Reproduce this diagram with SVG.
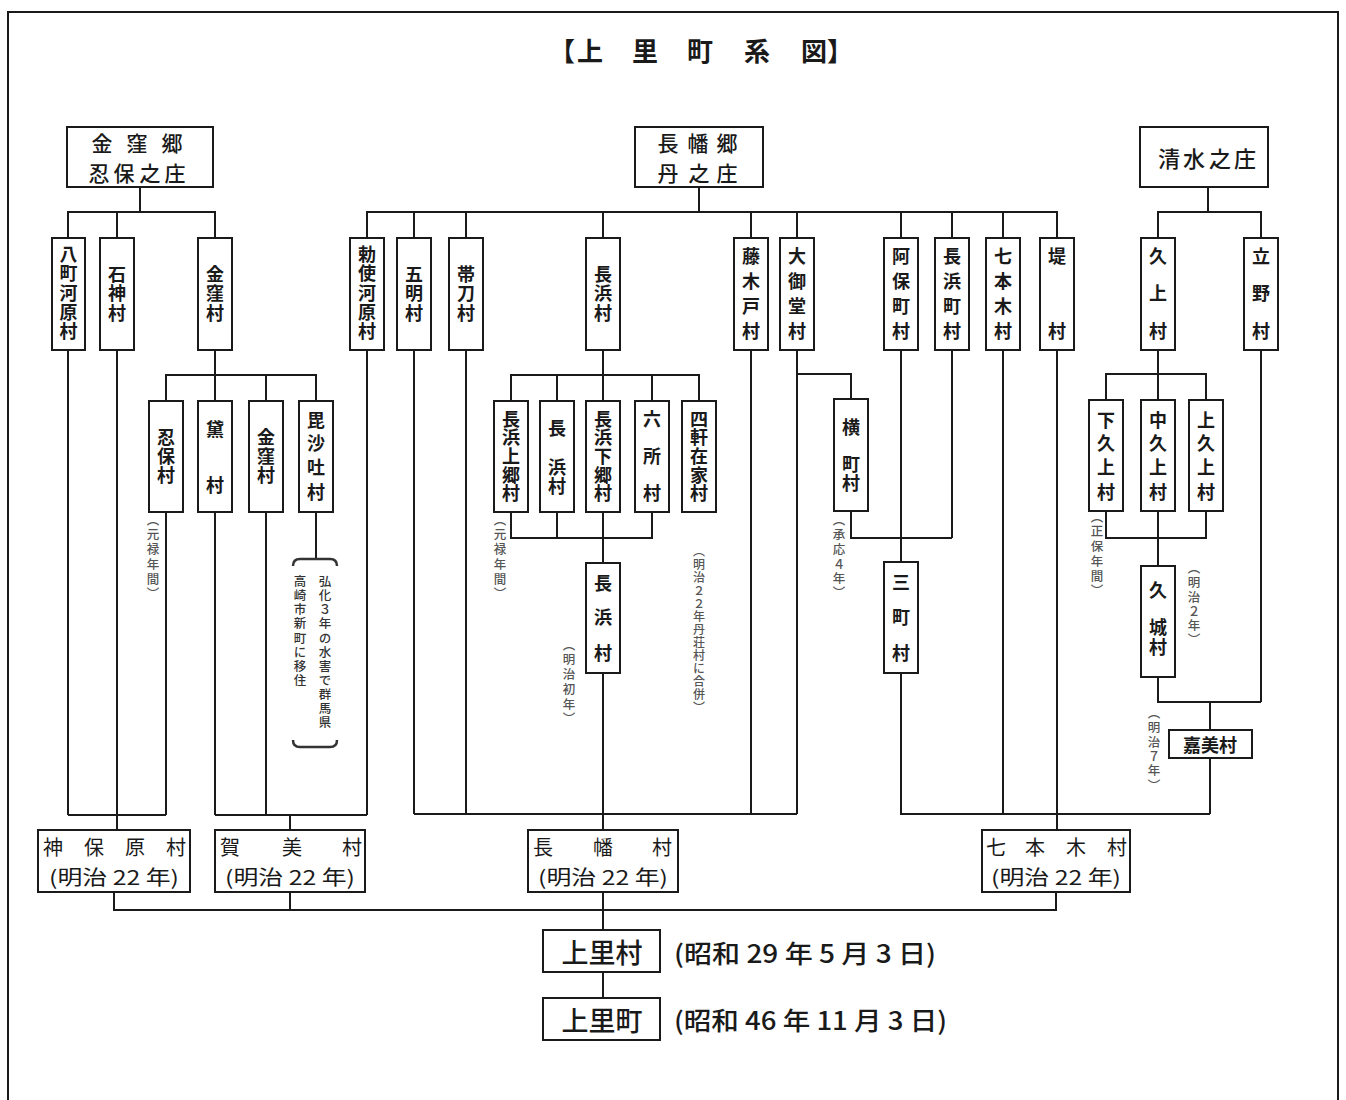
<svg xmlns="http://www.w3.org/2000/svg" width="1346" height="1100" viewBox="0 0 1346 1100">
<style>
.bx{fill:#fff;stroke:#1a1a1a;stroke-width:2}
.ln{fill:none;stroke:#1a1a1a;stroke-width:2}
.br{fill:none;stroke:#333;stroke-width:2.5}
text{font-family:"Noto Sans CJK JP","Noto Sans CJK SC",sans-serif;text-anchor:middle;dominant-baseline:central;fill:#1a1a1a}
.vt{writing-mode:vertical-rl}
.v{font-size:18px;font-weight:700}
.h{font-size:21px;font-weight:500}
.n{font-size:12.5px;font-weight:500;fill:#555}
.bt{font-size:20px;font-weight:400}
.big{font-size:25px;font-weight:500}
.ti{font-size:26px;font-weight:700}
</style>
<rect width="1346" height="1100" fill="#fff"/>
<path class="ln" d="M8,1100 V12 H1338 V1100"/>
<text class="ti"><tspan x="562" y="49">【</tspan><tspan x="590" y="49">上</tspan><tspan x="645" y="49">里</tspan><tspan x="700" y="49">町</tspan><tspan x="757" y="49">系</tspan><tspan x="814" y="49">図</tspan><tspan x="840" y="49">】</tspan></text>

<g id="connectors">
<path class="ln" d="M140,187 V212 M68,238 V212 H215 V238 M117,212 V238"/>
<path class="ln" d="M215,350 V401 M166,401 V375 H316 V401 M266,375 V401"/>
<path class="ln" d="M68,350 V815 M117,350 V830 M166,512 V815 M68,815 H166"/>
<path class="ln" d="M215,512 V815 M266,512 V815 M367,350 V815 M215,815 H367 M290,815 V830"/>
<path class="ln" d="M316,512 V559"/>
<path class="br" d="M293,566 Q293,559 300,559 H330 Q337,559 337,566 M293,740 Q293,747 300,747 H330 Q337,747 337,740"/>
<path class="ln" d="M699,187 V212 M367,238 V212 H1057 V238 M414,212 V238 M466,212 V238 M603,212 V238 M751,212 V238 M797,212 V238 M901,212 V238 M952,212 V238 M1003,212 V238"/>
<path class="ln" d="M603,350 V401 M511,401 V375 H699 V401 M557,375 V401 M652,375 V401"/>
<path class="ln" d="M511,512 V538 H652 V512 M557,512 V538 M603,512 V563 M603,673 V830"/>
<path class="ln" d="M414,350 V814 M466,350 V814 M751,350 V814 M797,350 V814 M414,814 H797"/>
<path class="ln" d="M797,374 H851 V399 M851,511 V538 H952 M952,350 V538 M901,350 V562 M901,673 V814 H1210 M1003,350 V814 M1057,350 V830"/>
<path class="ln" d="M1208,187 V212 M1158,238 V212 H1261 V238"/>
<path class="ln" d="M1158,350 V400 M1106,400 V374 H1206 V400 M1106,511 V538 H1206 V511 M1158,511 V566"/>
<path class="ln" d="M1158,677 V702 H1261 M1261,350 V702 M1210,702 V730 M1210,758 V814"/>
<path class="ln" d="M114,892 V910 H1056 V892 M290,892 V910 M603,892 V930 M603,972 V998"/>
</g>

<g id="n-kanakubo-go"><rect class="bx" x="67" y="127" width="146" height="60"/>
<text class="h"><tspan x="102" y="142">金</tspan><tspan x="137" y="142">窪</tspan><tspan x="172" y="142">郷</tspan></text>
<text class="h"><tspan x="99" y="172">忍</tspan><tspan x="124" y="172">保</tspan><tspan x="150" y="172">之</tspan><tspan x="175" y="172">庄</tspan></text></g>
<g id="n-nagahata-go"><rect class="bx" x="635" y="127" width="128" height="60"/>
<text class="h"><tspan x="668" y="142">長</tspan><tspan x="698" y="142">幡</tspan><tspan x="727" y="142">郷</tspan></text>
<text class="h"><tspan x="668" y="172">丹</tspan><tspan x="699" y="172">之</tspan><tspan x="727" y="172">庄</tspan></text></g>
<g id="n-shimizu"><rect class="bx" x="1140" y="127" width="128" height="60"/>
<text class="h" style="font-size:22px"><tspan x="1169" y="157">清</tspan><tspan x="1194" y="157">水</tspan><tspan x="1220" y="157">之</tspan><tspan x="1245" y="157">庄</tspan></text></g>

<g id="n-hacchogawara"><rect class="bx" x="52" y="238" width="33" height="112"/>
<text class="v vt"><tspan x="68.5" y="254">八</tspan><tspan x="68.5" y="273">町</tspan><tspan x="68.5" y="293">河</tspan><tspan x="68.5" y="312">原</tspan><tspan x="68.5" y="331">村</tspan></text></g>
<g id="n-ishigami"><rect class="bx" x="100" y="238" width="34" height="112"/>
<text class="v vt"><tspan x="117" y="274">石</tspan><tspan x="117" y="293">神</tspan><tspan x="117" y="313">村</tspan></text></g>
<g id="n-kanakubo1"><rect class="bx" x="198" y="238" width="34" height="112"/>
<text class="v vt"><tspan x="215" y="274">金</tspan><tspan x="215" y="293">窪</tspan><tspan x="215" y="313">村</tspan></text></g>
<g id="n-teshigawara"><rect class="bx" x="350" y="238" width="34" height="112"/>
<text class="v vt"><tspan x="367" y="254">勅</tspan><tspan x="367" y="273">使</tspan><tspan x="367" y="293">河</tspan><tspan x="367" y="312">原</tspan><tspan x="367" y="331">村</tspan></text></g>
<g id="n-gomyo"><rect class="bx" x="397" y="238" width="34" height="112"/>
<text class="v vt"><tspan x="414" y="274">五</tspan><tspan x="414" y="293">明</tspan><tspan x="414" y="313">村</tspan></text></g>
<g id="n-tatewaki"><rect class="bx" x="449" y="238" width="34" height="112"/>
<text class="v vt"><tspan x="466" y="274">帯</tspan><tspan x="466" y="293">刀</tspan><tspan x="466" y="313">村</tspan></text></g>
<g id="n-nagahama1"><rect class="bx" x="586" y="238" width="34" height="112"/>
<text class="v vt"><tspan x="603" y="274">長</tspan><tspan x="603" y="293">浜</tspan><tspan x="603" y="313">村</tspan></text></g>
<g id="n-fujikido"><rect class="bx" x="734" y="238" width="34" height="112"/>
<text class="v vt"><tspan x="751" y="256">藤</tspan><tspan x="751" y="281">木</tspan><tspan x="751" y="306">戸</tspan><tspan x="751" y="331">村</tspan></text></g>
<g id="n-omido"><rect class="bx" x="780" y="238" width="34" height="112"/>
<text class="v vt"><tspan x="797" y="256">大</tspan><tspan x="797" y="281">御</tspan><tspan x="797" y="306">堂</tspan><tspan x="797" y="331">村</tspan></text></g>
<g id="n-abomachi"><rect class="bx" x="884" y="238" width="34" height="112"/>
<text class="v vt"><tspan x="901" y="256">阿</tspan><tspan x="901" y="281">保</tspan><tspan x="901" y="306">町</tspan><tspan x="901" y="331">村</tspan></text></g>
<g id="n-nagahamamachi"><rect class="bx" x="935" y="238" width="34" height="112"/>
<text class="v vt"><tspan x="952" y="256">長</tspan><tspan x="952" y="281">浜</tspan><tspan x="952" y="306">町</tspan><tspan x="952" y="331">村</tspan></text></g>
<g id="n-shichihongi1"><rect class="bx" x="986" y="238" width="34" height="112"/>
<text class="v vt"><tspan x="1003" y="256">七</tspan><tspan x="1003" y="281">本</tspan><tspan x="1003" y="306">木</tspan><tspan x="1003" y="331">村</tspan></text></g>
<g id="n-tsutsumi"><rect class="bx" x="1040" y="238" width="34" height="112"/>
<text class="v vt"><tspan x="1057" y="256">堤</tspan><tspan x="1057" y="331">村</tspan></text></g>
<g id="n-kujo"><rect class="bx" x="1141" y="238" width="34" height="112"/>
<text class="v vt"><tspan x="1158" y="256">久</tspan><tspan x="1158" y="293">上</tspan><tspan x="1158" y="331">村</tspan></text></g>
<g id="n-tatsuno"><rect class="bx" x="1244" y="238" width="34" height="112"/>
<text class="v vt"><tspan x="1261" y="256">立</tspan><tspan x="1261" y="293">野</tspan><tspan x="1261" y="331">村</tspan></text></g>

<g id="n-oshibo"><rect class="bx" x="149" y="401" width="34" height="111"/>
<text class="v vt"><tspan x="166" y="437">忍</tspan><tspan x="166" y="456">保</tspan><tspan x="166" y="475">村</tspan></text></g>
<g id="n-mayuzumi"><rect class="bx" x="198" y="401" width="34" height="111"/>
<text class="v vt"><tspan x="215" y="429">黛</tspan><tspan x="215" y="485">村</tspan></text></g>
<g id="n-kanakubo2"><rect class="bx" x="249" y="401" width="34" height="111"/>
<text class="v vt"><tspan x="266" y="437">金</tspan><tspan x="266" y="456">窪</tspan><tspan x="266" y="475">村</tspan></text></g>
<g id="n-bishato"><rect class="bx" x="299" y="401" width="34" height="111"/>
<text class="v vt"><tspan x="316" y="420">毘</tspan><tspan x="316" y="443">沙</tspan><tspan x="316" y="467">吐</tspan><tspan x="316" y="492">村</tspan></text></g>
<g id="n-nagahamakamigo"><rect class="bx" x="494" y="401" width="34" height="111"/>
<text class="v vt"><tspan x="511" y="419">長</tspan><tspan x="511" y="437">浜</tspan><tspan x="511" y="456">上</tspan><tspan x="511" y="475">郷</tspan><tspan x="511" y="493">村</tspan></text></g>
<g id="n-nagahama2"><rect class="bx" x="540" y="401" width="34" height="111"/>
<text class="v vt"><tspan x="557" y="428">長</tspan><tspan x="557" y="467">浜</tspan><tspan x="557" y="486">村</tspan></text></g>
<g id="n-nagahamashimogo"><rect class="bx" x="586" y="401" width="34" height="111"/>
<text class="v vt"><tspan x="603" y="419">長</tspan><tspan x="603" y="437">浜</tspan><tspan x="603" y="456">下</tspan><tspan x="603" y="475">郷</tspan><tspan x="603" y="493">村</tspan></text></g>
<g id="n-rokusho"><rect class="bx" x="635" y="401" width="34" height="111"/>
<text class="v vt"><tspan x="652" y="419">六</tspan><tspan x="652" y="456">所</tspan><tspan x="652" y="493">村</tspan></text></g>
<g id="n-shikenzaike"><rect class="bx" x="682" y="401" width="34" height="111"/>
<text class="v vt"><tspan x="699" y="419">四</tspan><tspan x="699" y="437">軒</tspan><tspan x="699" y="456">在</tspan><tspan x="699" y="475">家</tspan><tspan x="699" y="493">村</tspan></text></g>
<g id="n-yokomachi"><rect class="bx" x="834" y="399" width="34" height="112"/>
<text class="v vt"><tspan x="851" y="427">横</tspan><tspan x="851" y="464">町</tspan><tspan x="851" y="483">村</tspan></text></g>
<g id="n-shimokujo"><rect class="bx" x="1089" y="400" width="34" height="111"/>
<text class="v vt"><tspan x="1106" y="420">下</tspan><tspan x="1106" y="443">久</tspan><tspan x="1106" y="467">上</tspan><tspan x="1106" y="492">村</tspan></text></g>
<g id="n-nakakujo"><rect class="bx" x="1141" y="400" width="34" height="111"/>
<text class="v vt"><tspan x="1158" y="420">中</tspan><tspan x="1158" y="443">久</tspan><tspan x="1158" y="467">上</tspan><tspan x="1158" y="492">村</tspan></text></g>
<g id="n-kamikujo"><rect class="bx" x="1189" y="400" width="34" height="111"/>
<text class="v vt"><tspan x="1206" y="420">上</tspan><tspan x="1206" y="443">久</tspan><tspan x="1206" y="467">上</tspan><tspan x="1206" y="492">村</tspan></text></g>

<g id="n-nagahama3"><rect class="bx" x="586" y="563" width="34" height="110"/>
<text class="v vt"><tspan x="603" y="583">長</tspan><tspan x="603" y="617">浜</tspan><tspan x="603" y="653">村</tspan></text></g>
<g id="n-sanmachi"><rect class="bx" x="884" y="562" width="34" height="111"/>
<text class="v vt"><tspan x="901" y="582">三</tspan><tspan x="901" y="617">町</tspan><tspan x="901" y="653">村</tspan></text></g>
<g id="n-kujo2"><rect class="bx" x="1141" y="566" width="34" height="111"/>
<text class="v vt"><tspan x="1158" y="590">久</tspan><tspan x="1158" y="627">城</tspan><tspan x="1158" y="647">村</tspan></text></g>
<g id="n-kami-village"><rect class="bx" x="1169" y="730" width="83" height="28"/>
<text class="v" x="1210" y="744">嘉美村</text></g>

<g id="notes">
<text class="n vt"><tspan x="153" y="520">︵</tspan><tspan x="153" y="534">元</tspan><tspan x="153" y="549">禄</tspan><tspan x="153" y="564">年</tspan><tspan x="153" y="579">間</tspan><tspan x="153" y="593">︶</tspan></text>
<text class="n vt" style="fill:#333"><tspan x="325" y="581">弘</tspan><tspan x="325" y="595">化</tspan><tspan x="325" y="609">３</tspan><tspan x="325" y="623">年</tspan><tspan x="325" y="638">の</tspan><tspan x="325" y="652">水</tspan><tspan x="325" y="666">害</tspan><tspan x="325" y="680">で</tspan><tspan x="325" y="694">群</tspan><tspan x="325" y="708">馬</tspan><tspan x="325" y="722">県</tspan></text>
<text class="n vt" style="fill:#333"><tspan x="300" y="581">高</tspan><tspan x="300" y="595">崎</tspan><tspan x="300" y="609">市</tspan><tspan x="300" y="623">新</tspan><tspan x="300" y="638">町</tspan><tspan x="300" y="652">に</tspan><tspan x="300" y="666">移</tspan><tspan x="300" y="680">住</tspan></text>
<text class="n vt"><tspan x="500" y="520">︵</tspan><tspan x="500" y="534">元</tspan><tspan x="500" y="549">禄</tspan><tspan x="500" y="564">年</tspan><tspan x="500" y="579">間</tspan><tspan x="500" y="593">︶</tspan></text>
<text class="n vt"><tspan x="569" y="645">︵</tspan><tspan x="569" y="659">明</tspan><tspan x="569" y="674">治</tspan><tspan x="569" y="689">初</tspan><tspan x="569" y="704">年</tspan><tspan x="569" y="718">︶</tspan></text>
<text class="n vt" style="font-size:12px"><tspan x="699" y="551">︵</tspan><tspan x="699" y="564">明</tspan><tspan x="699" y="577">治</tspan><tspan x="699" y="590">２</tspan><tspan x="699" y="603">２</tspan><tspan x="699" y="616">年</tspan><tspan x="699" y="629">丹</tspan><tspan x="699" y="642">荘</tspan><tspan x="699" y="655">村</tspan><tspan x="699" y="668">に</tspan><tspan x="699" y="681">合</tspan><tspan x="699" y="694">併</tspan><tspan x="699" y="707">︶</tspan></text>
<text class="n vt"><tspan x="839" y="520">︵</tspan><tspan x="839" y="534">承</tspan><tspan x="839" y="549">応</tspan><tspan x="839" y="564">４</tspan><tspan x="839" y="578">年</tspan><tspan x="839" y="592">︶</tspan></text>
<text class="n vt"><tspan x="1097" y="517">︵</tspan><tspan x="1097" y="531">正</tspan><tspan x="1097" y="546">保</tspan><tspan x="1097" y="561">年</tspan><tspan x="1097" y="576">間</tspan><tspan x="1097" y="590">︶</tspan></text>
<text class="n vt"><tspan x="1194" y="568">︵</tspan><tspan x="1194" y="582">明</tspan><tspan x="1194" y="597">治</tspan><tspan x="1194" y="611">２</tspan><tspan x="1194" y="625">年</tspan><tspan x="1194" y="639">︶</tspan></text>
<text class="n vt"><tspan x="1154" y="713">︵</tspan><tspan x="1154" y="727">明</tspan><tspan x="1154" y="742">治</tspan><tspan x="1154" y="756">７</tspan><tspan x="1154" y="770">年</tspan><tspan x="1154" y="785">︶</tspan></text>
</g>

<g id="n-jinbohara"><rect class="bx" x="38" y="830" width="152" height="62"/>
<text class="bt"><tspan x="53" y="846">神</tspan><tspan x="94" y="846">保</tspan><tspan x="135" y="846">原</tspan><tspan x="176" y="846">村</tspan></text>
<text class="bt" x="114" y="876" textLength="130" lengthAdjust="spacingAndGlyphs">(明治 22 年)</text></g>
<g id="n-kami"><rect class="bx" x="215" y="830" width="150" height="62"/>
<text class="bt"><tspan x="230" y="846">賀</tspan><tspan x="292" y="846">美</tspan><tspan x="352" y="846">村</tspan></text>
<text class="bt" x="290" y="876" textLength="130" lengthAdjust="spacingAndGlyphs">(明治 22 年)</text></g>
<g id="n-nagahata"><rect class="bx" x="528" y="830" width="150" height="62"/>
<text class="bt"><tspan x="543" y="846">長</tspan><tspan x="603" y="846">幡</tspan><tspan x="662" y="846">村</tspan></text>
<text class="bt" x="603" y="876" textLength="130" lengthAdjust="spacingAndGlyphs">(明治 22 年)</text></g>
<g id="n-shichihongi"><rect class="bx" x="982" y="830" width="148" height="62"/>
<text class="bt"><tspan x="996" y="846">七</tspan><tspan x="1035" y="846">本</tspan><tspan x="1076" y="846">木</tspan><tspan x="1117" y="846">村</tspan></text>
<text class="bt" x="1056" y="876" textLength="130" lengthAdjust="spacingAndGlyphs">(明治 22 年)</text></g>

<g id="n-kamisato-mura"><rect class="bx" x="543" y="930" width="117" height="42"/>
<text class="big" x="602" y="951" style="font-size:27px">上里村</text>
<text class="big" x="674" y="952" style="text-anchor:start" textLength="262" lengthAdjust="spacingAndGlyphs">(昭和 29 年 5 月 3 日)</text></g>
<g id="n-kamisato-machi"><rect class="bx" x="543" y="998" width="117" height="42"/>
<text class="big" x="602" y="1019" style="font-size:27px">上里町</text>
<text class="big" x="674" y="1019" style="text-anchor:start" textLength="273" lengthAdjust="spacingAndGlyphs">(昭和 46 年 11 月 3 日)</text></g>
</svg>
